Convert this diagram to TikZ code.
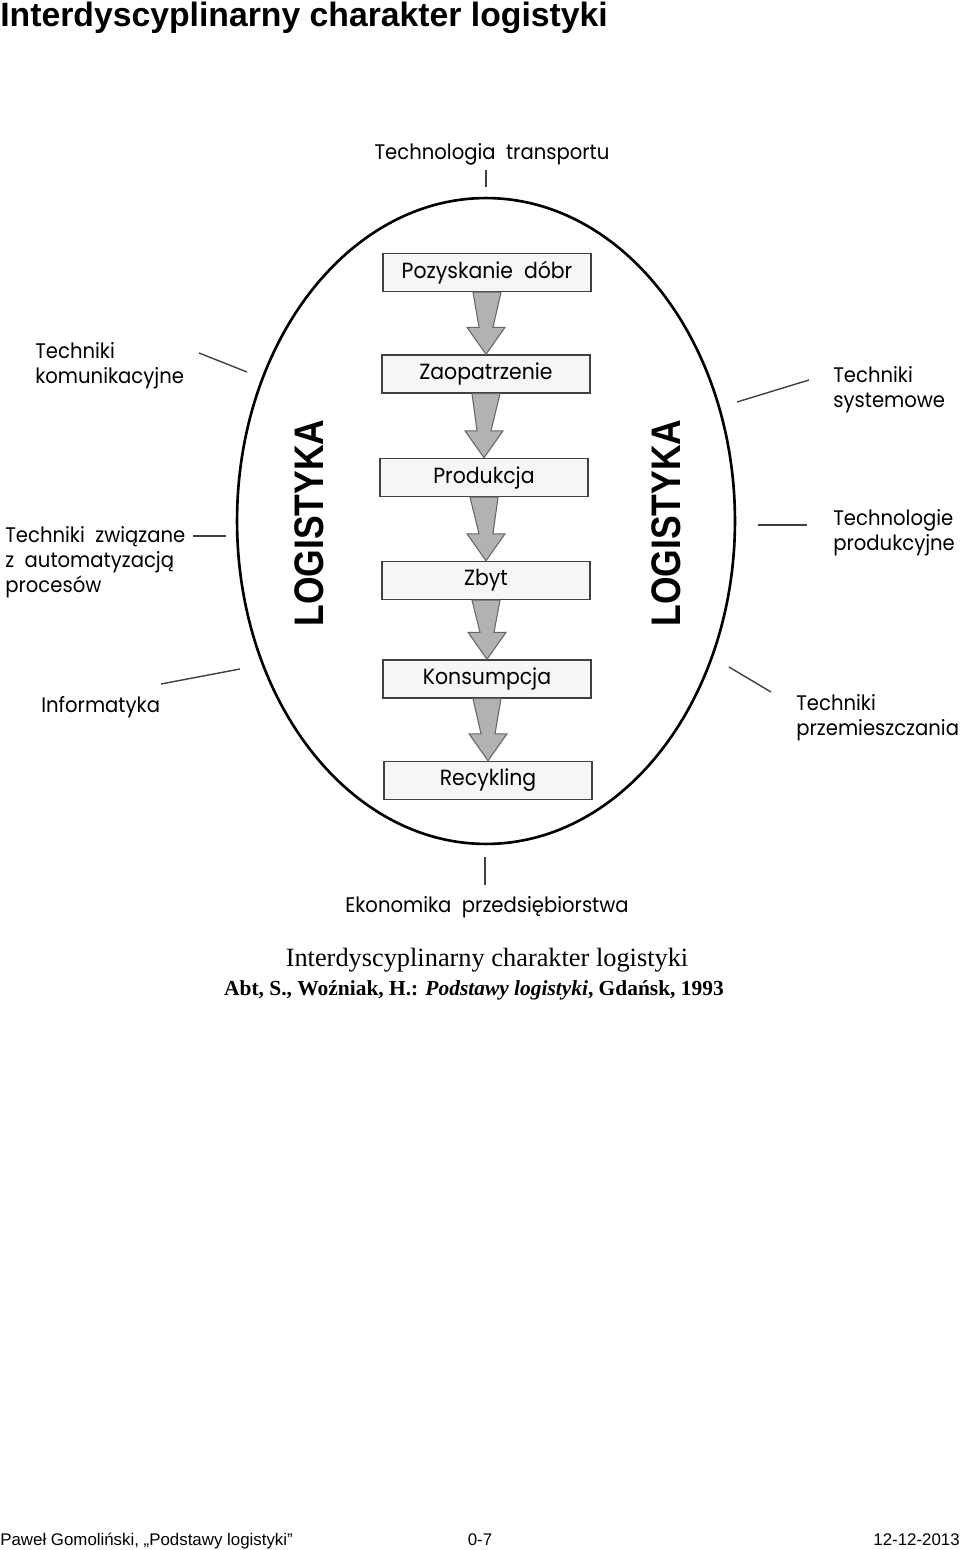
\documentclass[tikz,border=0pt]{standalone}
\usepackage{fontspec}
\setmainfont{Liberation Serif}
\newfontfamily\geofont{Poppins}[FakeStretch=0.93]
\newfontfamily\arialfont{Liberation Sans}
\usetikzlibrary{calc,shapes.geometric}

\tikzset{
  etykieta/.style={font=\geofont\fontsize{12}{14.2}\selectfont, align=left, inner sep=0pt},
  etap/.style={draw=black!75, line width=0.8pt, fill=gray!7, minimum width=4.16cm,
    minimum height=0.76cm, inner sep=0pt, font=\geofont\fontsize{12.5}{14}\selectfont},
  przeplyw/.style={draw=black!60, line width=0.6pt, fill=gray!60},
  kreska/.style={draw=black!75, line width=0.8pt},
  logo/.style={font=\arialfont\bfseries\fontsize{23.5}{23.5}\selectfont, rotate=90, inner sep=0pt}
}

\begin{document}
\begin{tikzpicture}[x=0.02cm, y=-0.02cm]
        \useasboundingbox (0,0) rectangle (960,1550);
        % Titolo
        \node[anchor=base west, inner sep=0pt, font=\arialfont\bfseries\fontsize{19.2}{22}\selectfont] (tytul) at (0,27) {Interdyscyplinarny charakter logistyki};
        % Ellisse
        \node[draw, line width=1.5pt, ellipse, minimum width=9.96cm, minimum height=12.92cm, inner sep=0pt] (logi) at (486,521) {};
        \node[logo] (logL) at (309,523) {\scalebox{0.86}[1]{LOGISTYKA}};
        \node[logo] (logR) at (666,523) {\scalebox{0.86}[1]{LOGISTYKA}};
        % Fasi
        \node[etap] (poz) at (487,272.5) {Pozyskanie\ \ dóbr};
        \node[etap] (zao) at (486,374) {Zaopatrzenie};
        \node[etap] (pro) at (484,477.5) {Produkcja};
        \node[etap] (zby) at (486,580.5) {Zbyt};
        \node[etap] (kon) at (487,679) {Konsumpcja};
        \node[etap] (rec) at (488,780.5) {Recykling};
        \foreach \a/\b in {poz/zao, zao/pro, pro/zby, zby/kon, kon/rec}
          \filldraw[przeplyw] ($(\a.south)+(-14,0)$) -- ($(\a.south)+(14,0)$)
            -- ($(\b.north)+(7,-27)$) -- ($(\b.north)+(19,-27)$) -- (\b.north)
            -- ($(\b.north)+(-19,-27)$) -- ($(\b.north)+(-7,-27)$) -- cycle;
        % Discipline
        \node[etykieta, anchor=base] (tra) at (492,160) {Technologia\ \ transportu};
        \node[etykieta, anchor=north west] (kom) at (35,342) {Techniki\\komunikacyjne};
        \node[etykieta, anchor=north west] (aut) at (5,526) {Techniki\ \ związane\\z\ \ automatyzacją\\procesów};
        \node[etykieta, anchor=base west] (inf) at (41,712) {Informatyka};
        \node[etykieta, anchor=north west] (sys) at (833,366) {Techniki\\systemowe};
        \node[etykieta, anchor=north west] (prd) at (833,509) {Technologie\\produkcyjne};
        \node[etykieta, anchor=north west] (prz) at (796,694) {Techniki\\przemieszczania};
        \node[etykieta, anchor=base] (eko) at (487,912) {Ekonomika\ \ przedsiębiorstwa};
        % Trattini
        \coordinate (traA) at (486,170); \coordinate (traB) at (486,187);
        \coordinate (komA) at (199,353); \coordinate (komB) at (247,372);
        \coordinate (autA) at (193,536); \coordinate (autB) at (226,536);
        \coordinate (infA) at (161,684); \coordinate (infB) at (240,669);
        \coordinate (sysA) at (737,402); \coordinate (sysB) at (809,380);
        \coordinate (prdA) at (758,525); \coordinate (prdB) at (807,525);
        \coordinate (przA) at (729,667); \coordinate (przB) at (771,692);
        \coordinate (ekoA) at (485,857); \coordinate (ekoB) at (485,885);
        \foreach \k in {tra, kom, aut, inf, sys, prd, prz, eko}
          \draw[kreska] (\k A) -- (\k B);
        % Didascalia
        \node[anchor=base, inner sep=0pt, font=\fontsize{15}{17}\selectfont] (pod) at (487,966) {Interdyscyplinarny charakter logistyki};
        \node[anchor=base, inner sep=0pt, font=\bfseries\fontsize{12.2}{14}\selectfont] (zrd) at (474,995) {Abt, S., Woźniak, H.: \textit{Podstawy logistyki}, Gdańsk, 1993};
        % Pie di pagina
        \node[anchor=base west, inner sep=0pt, font=\arialfont\fontsize{9.6}{11}\selectfont] (aut1) at (0,1545) {Paweł Gomoliński, „Podstawy logistyki”};
        \node[anchor=base, inner sep=0pt, font=\arialfont\fontsize{9.6}{11}\selectfont] (str) at (480,1545) {0-7};
        \node[anchor=base east, inner sep=0pt, font=\arialfont\fontsize{9.6}{11}\selectfont] (dat) at (960,1545) {12-12-2013};
\end{tikzpicture}
\end{document}
